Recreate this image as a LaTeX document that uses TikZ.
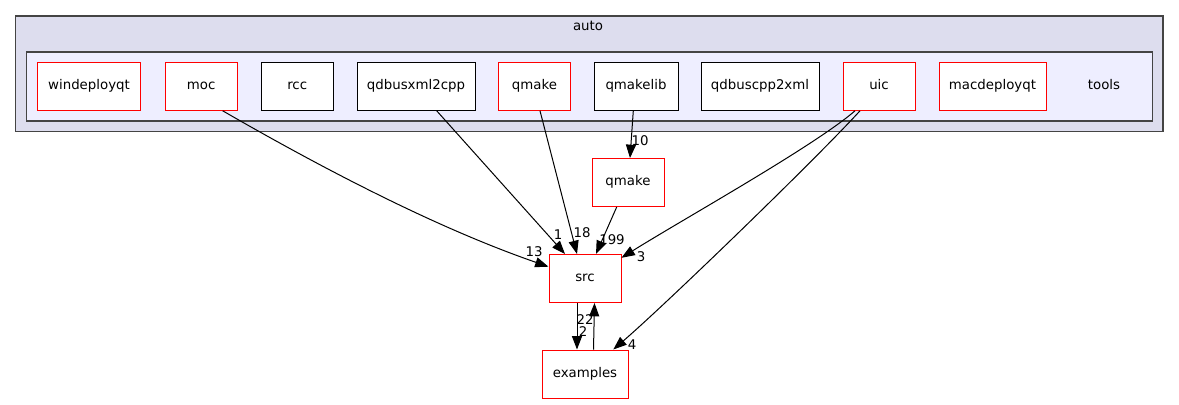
\documentclass[tikz,border=0pt]{standalone}
\usepackage{fontspec}
\setmainfont{DejaVu Sans}
\usetikzlibrary{arrows.meta}
\definecolor{outerfill}{HTML}{DDDDEE}
\definecolor{innerfill}{HTML}{EEEEFF}
\definecolor{clborder}{HTML}{444444}
\definecolor{dirred}{HTML}{FF0000}
\newcommand{\pxu}{0.75pt}
\begin{document}
\begin{tikzpicture}[x=0.75pt,y=-0.75pt,
  font=\fontsize{10pt}{12pt}\selectfont,
  cluster/.style={draw=clborder, line width=1pt},
  dirbox/.style={draw, fill=white, line width=0.75pt, inner sep=0pt,
    minimum height=48*\pxu, text height=7.2pt, text depth=2pt},
  rednode/.style={dirbox, draw=dirred},
  blacknode/.style={dirbox, draw=black},
  plainlabel/.style={inner sep=0pt, text height=7.2pt, text depth=2pt},
  edgelabel/.style={inner sep=0pt, text height=7pt, text depth=0pt},
  dep/.style={draw=black, line width=0.75pt, -{Triangle[length=10pt,width=7.5pt]}}]
\useasboundingbox (0,0) rectangle (1179,404);
% clusters
\draw[cluster, fill=outerfill] (15.5,16) rectangle (1163,131.5);
\node[plainlabel] (autolabel) at (588,27) {auto};
\draw[cluster, fill=innerfill] (26.5,52) rectangle (1152.5,121);
\node[plainlabel] (toolslabel) at (1104,86) {tools};
% nodes inside tools
\node[rednode, minimum width=103*\pxu] (windeployqt) at (89,86.3) {windeployqt};
\node[rednode, minimum width=72*\pxu] (moc) at (201.2,86.3) {moc};
\node[blacknode, minimum width=72*\pxu] (rcc) at (297.2,86.3) {rcc};
\node[blacknode, minimum width=118*\pxu] (qdbusxml2cpp) at (416,86.3) {qdbusxml2cpp};
\node[rednode, minimum width=72*\pxu] (qmaketools) at (534.5,86.3) {qmake};
\node[blacknode, minimum width=84*\pxu] (qmakelib) at (636,86.3) {qmakelib};
\node[blacknode, minimum width=118*\pxu] (qdbuscpp2xml) at (760,86.3) {qdbuscpp2xml};
\node[rednode, minimum width=72*\pxu] (uic) at (879,86.3) {uic};
\node[rednode, minimum width=107*\pxu] (macdeployqt) at (992.5,86.3) {macdeployqt};
% outside nodes
\node[rednode, minimum width=72*\pxu] (qmake) at (628,182.5) {qmake};
\node[rednode, minimum width=72*\pxu] (src) at (585,278.5) {src};
\node[rednode, minimum width=86*\pxu] (examples) at (585,374) {examples};
% edges
\draw[dep] ([xshift=21.5*\pxu]moc.south) .. controls (360,190) and (460,236) .. ([yshift=11.8*\pxu]src.west);
\draw[dep] ([xshift=20.7*\pxu]qdbusxml2cpp.south) -- ([xshift=-20*\pxu]src.north);
\draw[dep] ([xshift=5.5*\pxu]qmaketools.south) -- ([xshift=-8*\pxu]src.north);
\draw[dep] ([xshift=-2.7*\pxu]qmakelib.south) -- ([xshift=2*\pxu]qmake.north);
\draw[dep] ([xshift=-11.3*\pxu]qmake.south) -- ([xshift=11*\pxu]src.north);
\draw[dep] ([xshift=-24*\pxu]uic.south) .. controls (815,145.7) and (681.7,220) .. ([yshift=-3.8*\pxu]src.north east);
\draw[dep] ([xshift=-19*\pxu]uic.south) .. controls (815,160) and (665,305) .. ([xshift=28.3*\pxu]examples.north);
\draw[dep] ([xshift=-8*\pxu]src.south) -- ([xshift=-8*\pxu]examples.north);
\draw[dep] ([xshift=8.5*\pxu]examples.north) -- ([xshift=9.5*\pxu]src.south);
% edge labels
\node[edgelabel] (l13) at (534,252) {13};
\node[edgelabel] (l1) at (558,235) {1};
\node[edgelabel] (l18) at (582,233) {18};
\node[edgelabel] (l199) at (612,240) {199};
\node[edgelabel] (l3) at (641,257) {3};
\node[edgelabel] (l10) at (640,141) {10};
\node[edgelabel] (l22) at (585,320) {22};
\node[edgelabel] (l2) at (583,332) {2};
\node[edgelabel] (l4) at (632,345) {4};
\end{tikzpicture}
\end{document}
